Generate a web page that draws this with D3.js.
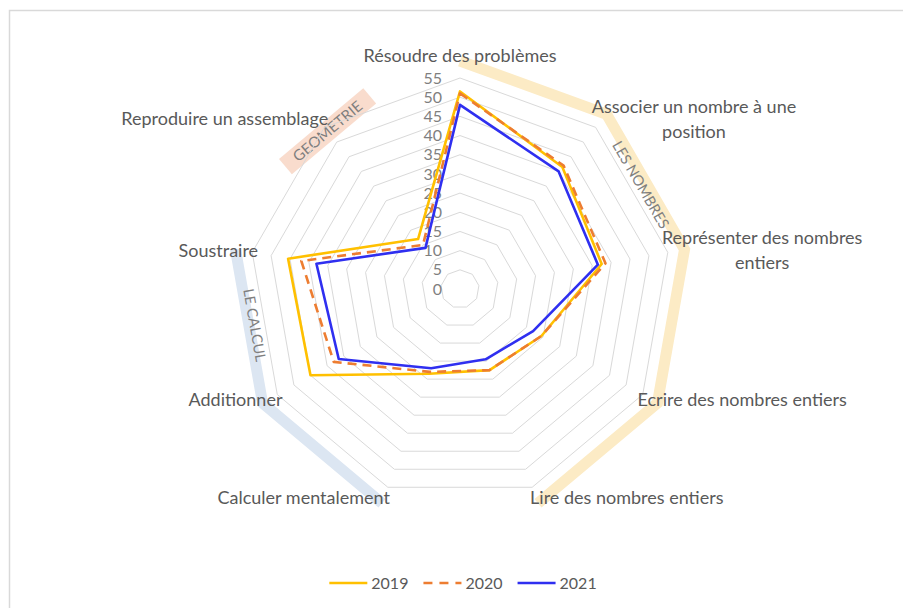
<!DOCTYPE html>
<html>
<head>
<meta charset="utf-8">
<script src="https://cdn.jsdelivr.net/npm/d3@7"></script>
<style>
  body { margin: 0; background: #fff; }
  svg { display: block; font-family: Lato, "Open Sans", sans-serif; }
</style>
</head>
<body>
<div id="chart"></div>
<script>
// Data
const categories = [
    "Résoudre des problèmes",
    "Associer un nombre à une\nposition",
    "Représenter des nombres\nentiers",
    "Ecrire des nombres entiers",
    "Lire des nombres entiers",
    "Calculer mentalement",
    "Additionner",
    "Soustraire",
    "Reproduire un assemblage"
];
const years = ["2019", "2020", "2021"];
const values2019 = [51.5, 41.5, 37.5, 24.5, 22.5, 23.5, 45, 45.5, 17];
const values2020 = [51, 42, 38.5, 24.5, 22.5, 23, 38, 42, 15];
const values2021 = [48, 40, 36.5, 22, 19.5, 22, 36.5, 38, 14];
const valueTicks = [0, 5, 10, 15, 20, 25, 30, 35, 40, 45, 50, 55];
// domains: index of first and last category covered
const domains = [
    {name: "LES NOMBRES", from: 0, to: 4},
    {name: "LE CALCUL", from: 5, to: 7},
    {name: "GEOMETRIE", from: 8, to: 8}
];

const width = 903, height = 608;
const cx = 460, cy = 289;
const colors = {"2019": "#ffc000", "2020": "#ed7d31", "2021": "#2f2ff0"};
const domainColors = {"LES NOMBRES": "#fcebc5", "LE CALCUL": "#dce6f2", "GEOMETRIE": "#f9dccd"};

const svg = d3.select("#chart").append("svg")
    .attr("width", width)
    .attr("height", height);

// chart border
svg.append("rect")
    .attr("x", 9.5).attr("y", 10.5)
    .attr("width", 905).attr("height", 610)
    .attr("fill", "none")
    .attr("stroke", "#d9d9d9")
    .attr("stroke-width", 1.5);

const r = d3.scaleLinear().domain([0, 55]).range([0, 211]);
const angle = d3.scaleLinear().domain([0, categories.length]).range([0, 2 * Math.PI]);
const pt = (i, rad) => [Math.sin(angle(i)) * rad, -Math.cos(angle(i)) * rad];

const g = svg.append("g").attr("transform", `translate(${cx},${cy})`);

// domain bands
const bandR = 228;
domains.forEach(dm => {
    if (dm.from === dm.to) {
        const [x, y] = pt(dm.from, 206);
        const rot = angle(dm.from) * 180 / Math.PI - 360;
        const box = g.append("g").attr("transform", `translate(${x},${y}) rotate(${rot})`);
        box.append("rect")
            .attr("x", -55).attr("y", -10)
            .attr("width", 110).attr("height", 20)
            .attr("fill", domainColors[dm.name]);
        box.append("text")
            .attr("text-anchor", "middle")
            .attr("dy", "0.35em")
            .attr("font-size", 15)
            .attr("fill", "#7f7f7f")
            .text(dm.name);
        return;
    }
    const idx = d3.range(dm.from, dm.to + 1);
    g.append("path")
        .attr("d", d3.line()(idx.map(i => pt(i, bandR))))
        .attr("fill", "none")
        .attr("stroke", domainColors[dm.name])
        .attr("stroke-width", 11)
        .attr("stroke-linejoin", "miter");
    // label along one edge of the band
    const a = dm.name === "LES NOMBRES" ? 1 : 6;
    const b = a + 1;
    const p1 = pt(a, bandR - 6), p2 = pt(b, bandR - 6);
    let rot = Math.atan2(p2[1] - p1[1], p2[0] - p1[0]) * 180 / Math.PI;
    if (rot < -90 || rot > 90) rot += 180;
    g.append("text")
        .attr("transform", `translate(${(p1[0] + p2[0]) / 2},${(p1[1] + p2[1]) / 2}) rotate(${rot})`)
        .attr("text-anchor", "middle")
        .attr("dy", "0.35em")
        .attr("font-size", 14.5)
        .attr("fill", "#7f7f7f")
        .text(dm.name);
});

// grid rings
const ring = d3.lineRadial()
    .angle((d, i) => angle(i))
    .radius(d => r(d))
    .curve(d3.curveLinearClosed);

g.selectAll(".ring")
    .data(valueTicks.filter(v => v > 0))
    .enter()
    .append("path")
    .attr("class", "ring")
    .attr("d", v => ring(categories.map(() => v)))
    .attr("fill", "none")
    .attr("stroke", "#d9d9d9")
    .attr("stroke-width", 1);

// value axis labels
g.selectAll(".vlab")
    .data(valueTicks)
    .enter()
    .append("text")
    .attr("x", -18)
    .attr("y", v => -r(v))
    .attr("dy", "0.35em")
    .attr("text-anchor", "end")
    .attr("font-size", 16)
    .attr("fill", "#7f7f7f")
    .text(v => v);

// category labels
categories.forEach((c, i) => {
    const s = Math.sin(angle(i)), co = Math.cos(angle(i));
    const lines = c.split("\n");
    const lh = 25;
    const t = g.append("text")
        .attr("font-size", 18)
        .attr("fill", "#595959");
    lines.forEach(l => t.append("tspan").text(l));
    const tsp = t.selectAll("tspan");
    const w = d3.max(tsp.nodes(), n => n.getComputedTextLength());
    let x, y;
    if (Math.abs(s) < 0.1) {
        x = 0;
        y = -r(55) - 22;
    } else {
        x = s * 205 + (s > 0 ? w / 2 : -w / 2);
        y = -co * 222 - (lines.length - 1) * lh / 2;
    }
    tsp.attr("x", x)
        .attr("y", (d, k) => y + k * lh)
        .attr("dy", "0.35em")
        .attr("text-anchor", "middle");
});

// series
const series = [values2019, values2020, values2021];
series.forEach((vals, k) => {
    g.append("path")
        .attr("d", ring(vals))
        .attr("fill", "none")
        .attr("stroke", colors[years[k]])
        .attr("stroke-width", 2.6)
        .attr("stroke-dasharray", years[k] === "2020" ? "9,6" : null)
        .attr("stroke-linejoin", "round");
});

// legend
const legend = svg.append("g");
let lx = 0;
years.forEach(y => {
    const item = legend.append("g").attr("transform", `translate(${lx},0)`);
    item.append("line")
        .attr("x1", 0).attr("x2", 38)
        .attr("y1", 0).attr("y2", 0)
        .attr("stroke", colors[y])
        .attr("stroke-width", 2.6)
        .attr("stroke-dasharray", y === "2020" ? "9,7" : null);
    const txt = item.append("text")
        .attr("x", 42)
        .attr("dy", "0.35em")
        .attr("font-size", 16)
        .attr("fill", "#595959")
        .text(y);
    lx += 42 + txt.node().getComputedTextLength() + 15;
});
legend.attr("transform", `translate(${463 - (lx - 15) / 2},583)`);
</script>
</body>
</html>
